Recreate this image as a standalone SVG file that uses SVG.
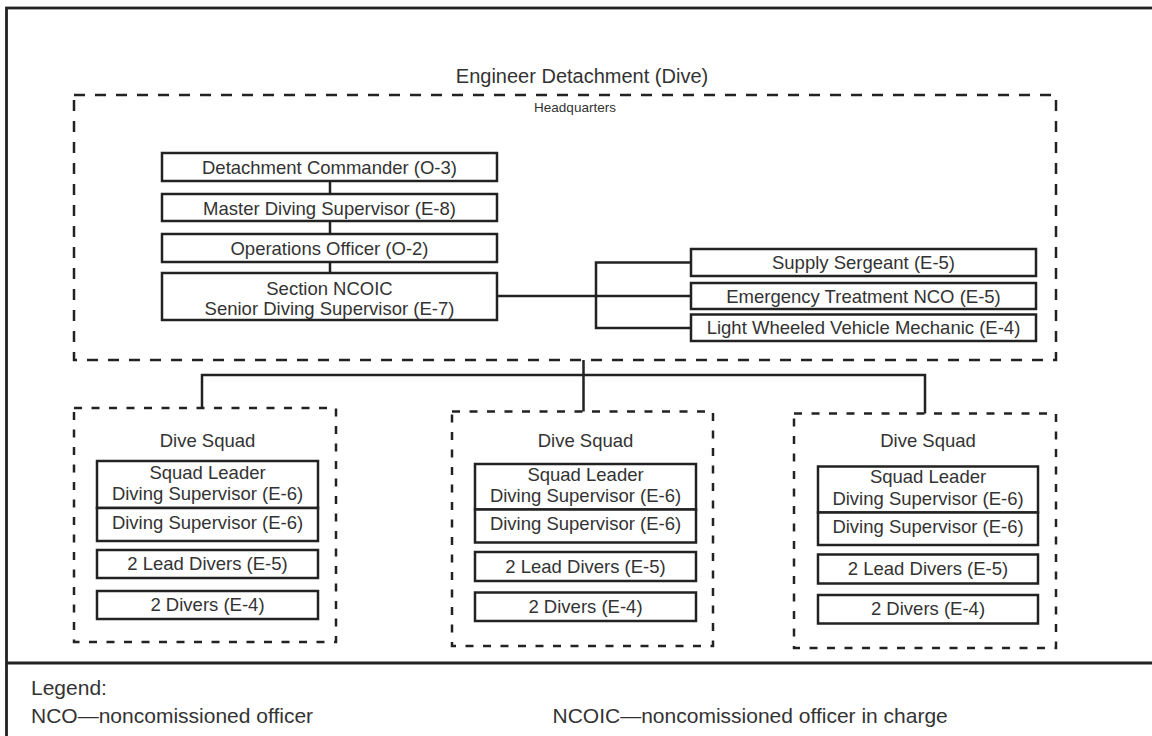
<svg xmlns="http://www.w3.org/2000/svg" width="1152" height="736" viewBox="0 0 1152 736">
<style>
text{font-family:"Liberation Sans",Arial,sans-serif;fill:#333;text-anchor:middle;font-size:18.5px}
.box{fill:#fff;stroke:#222;stroke-width:2.5}
.hq{fill:none;stroke:#222;stroke-width:2.5;stroke-dasharray:11 10}
.sq{fill:none;stroke:#222;stroke-width:2.5;stroke-dasharray:8 9.5}
.ln{fill:none;stroke:#222;stroke-width:2.5}
.lg{text-anchor:start;font-size:21px}
</style>
<rect width="1152" height="736" fill="#fff"/>
<g id="frame">
<rect x="6.5" y="8" width="1160" height="740" fill="none" stroke="#222" stroke-width="2.8"/>
<line x1="6" y1="663" x2="1152" y2="663" stroke="#222" stroke-width="2.8"/>
</g>
<text x="582" y="83" style="font-size:20px">Engineer Detachment (Dive)</text>
<g id="connectors">
<path class="ln" d="M330 181V194M330 221V234M330 262V273"/>
<path class="ln" d="M497 296H691M691 262.5H596V328H691"/>
<path class="ln" d="M583.5 360V411.5M202 408V375H925V413.5"/>
</g>
<g id="headquarters">
<rect class="hq" x="74" y="95" width="982" height="265"/>
<text x="575" y="112" style="font-size:13.5px">Headquarters</text>
</g>
<g id="commander"><rect class="box" x="162" y="153" width="335" height="28"/><text x="329.5" y="174">Detachment Commander (O-3)</text></g>
<g id="master-diving"><rect class="box" x="162" y="194" width="335" height="27"/><text x="329.5" y="214.5">Master Diving Supervisor (E-8)</text></g>
<g id="operations"><rect class="box" x="162" y="234" width="335" height="28"/><text x="329.5" y="255">Operations Officer (O-2)</text></g>
<g id="section-ncoic"><rect class="box" x="162" y="273" width="335" height="47"/><text x="329.5" y="295">Section NCOIC</text><text x="329.5" y="315">Senior Diving Supervisor (E-7)</text></g>
<g id="supply"><rect class="box" x="691" y="249" width="345" height="27"/><text x="863.5" y="269">Supply Sergeant (E-5)</text></g>
<g id="emergency"><rect class="box" x="691" y="283" width="345" height="26"/><text x="863.5" y="302.5">Emergency Treatment NCO (E-5)</text></g>
<g id="mechanic"><rect class="box" x="691" y="314.5" width="345" height="26.5"/><text x="863.5" y="334">Light Wheeled Vehicle Mechanic (E-4)</text></g>
<g id="squad1">
<rect class="sq" x="74" y="408" width="262" height="234"/>
<text x="207.5" y="446.5">Dive Squad</text>
<rect class="box" x="97" y="461" width="221" height="47"/><text x="207.5" y="478.5">Squad Leader</text><text x="207.5" y="500">Diving Supervisor (E-6)</text>
<rect class="box" x="97" y="508" width="221" height="33"/><text x="207.5" y="528.5">Diving Supervisor (E-6)</text>
<rect class="box" x="97" y="550" width="221" height="28"/><text x="207.5" y="570">2 Lead Divers (E-5)</text>
<rect class="box" x="97" y="591" width="221" height="28"/><text x="207.5" y="610.5">2 Divers (E-4)</text>
</g>
<g id="squad2">
<rect class="sq" x="452" y="411.5" width="261" height="234.5"/>
<text x="585.5" y="446.5">Dive Squad</text>
<rect class="box" x="475" y="464" width="221" height="45.5"/><text x="585.5" y="480.5">Squad Leader</text><text x="585.5" y="502">Diving Supervisor (E-6)</text>
<rect class="box" x="475" y="509.5" width="221" height="33"/><text x="585.5" y="530">Diving Supervisor (E-6)</text>
<rect class="box" x="475" y="552" width="221" height="29"/><text x="585.5" y="572.5">2 Lead Divers (E-5)</text>
<rect class="box" x="475" y="592.5" width="221" height="28.5"/><text x="585.5" y="612.5">2 Divers (E-4)</text>
</g>
<g id="squad3">
<rect class="sq" x="794" y="413.5" width="262" height="234.5"/>
<text x="928" y="446.5">Dive Squad</text>
<rect class="box" x="818" y="466.5" width="220" height="46"/><text x="928" y="483">Squad Leader</text><text x="928" y="504.5">Diving Supervisor (E-6)</text>
<rect class="box" x="818" y="512.5" width="220" height="32.5"/><text x="928" y="533">Diving Supervisor (E-6)</text>
<rect class="box" x="818" y="554.5" width="220" height="29"/><text x="928" y="575">2 Lead Divers (E-5)</text>
<rect class="box" x="818" y="595" width="220" height="28.5"/><text x="928" y="615">2 Divers (E-4)</text>
</g>
<g id="legend">
<text class="lg" x="31" y="695">Legend:</text>
<text class="lg" x="31" y="723">NCO—noncomissioned officer</text>
<text class="lg" x="552.5" y="723">NCOIC—noncomissioned officer in charge</text>
</g>
</svg>
